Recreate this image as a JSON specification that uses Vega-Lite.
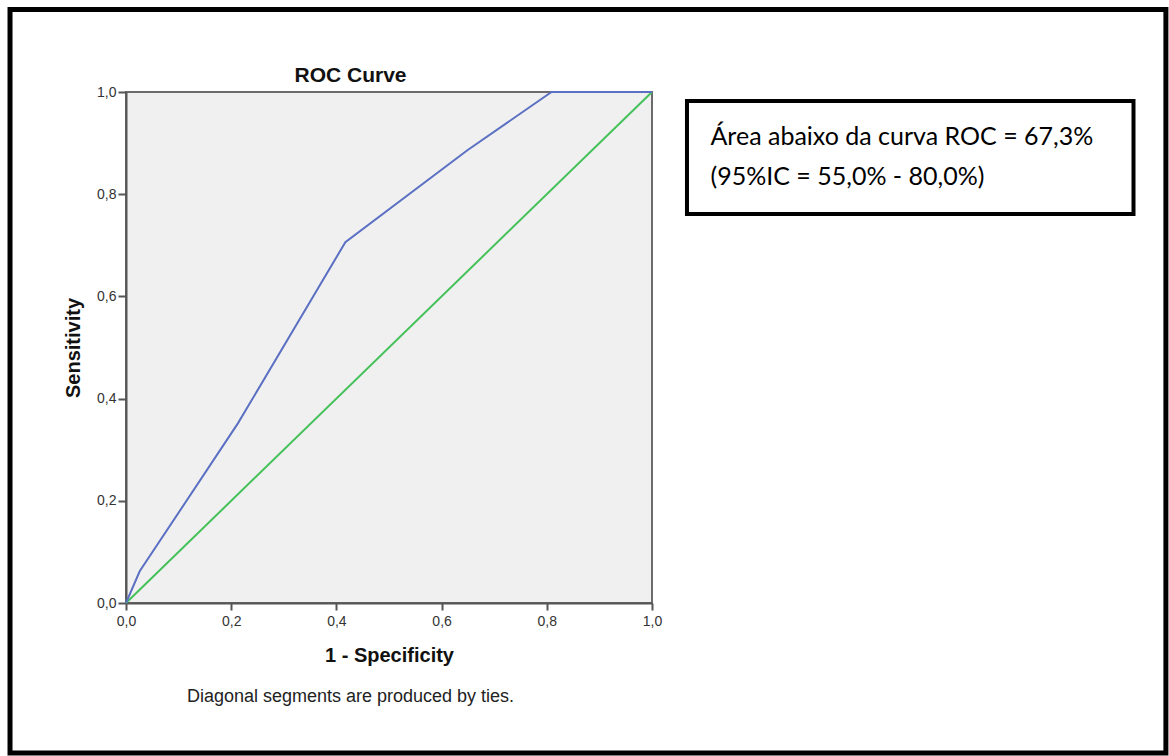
{
  "$schema": "https://vega.github.io/schema/vega-lite/v6.json",
  "width": 526,
  "height": 511,
  "autosize": {"type": "none"},
  "padding": {"left": 126, "top": 92, "right": 517, "bottom": 153},
  "background": "white",
  "config": {
    "font": "Liberation Sans",
    "view": {"fill": "#f0f0f0", "stroke": "#6b6b6b", "strokeWidth": 2}
  },
  "datasets": {
    "roc": [
      {"fpr": 0.0, "tpr": 0.0},
      {"fpr": 0.026, "tpr": 0.062},
      {"fpr": 0.213, "tpr": 0.352},
      {"fpr": 0.417, "tpr": 0.706},
      {"fpr": 0.649, "tpr": 0.886},
      {"fpr": 0.809, "tpr": 1.0},
      {"fpr": 1.0, "tpr": 1.0}
    ],
    "diag": [
      {"fpr": 0.0, "tpr": 0.0},
      {"fpr": 1.0, "tpr": 1.0}
    ],
    "note": [{"title": "ROC Curve", "line": "Área abaixo da curva ROC = 67,3%", "line2": "(95%IC = 55,0% - 80,0%)", "foot": "Diagonal segments are produced by ties."}]
  },
  "layer": [
    {
      "data": {"name": "diag"},
      "mark": {"type": "line", "color": "#45c15a", "strokeWidth": 2},
      "encoding": {
        "x": {
          "field": "fpr", "type": "quantitative",
          "scale": {"domain": [0, 1], "nice": false, "zero": false},
          "axis": {
            "values": [0, 0.2, 0.4, 0.6, 0.8, 1.0],
            "labelExpr": "replace(format(datum.value, '.1f'), '.', ',')",
            "labelFlush": false,
            "title": "1 - Specificity",
            "titleFontSize": 20, "titleFontWeight": "bold", "titleColor": "#111",
            "titlePadding": 17,
            "labelFontSize": 14, "labelColor": "#333", "labelPadding": 4,
            "tickSize": 7, "tickWidth": 2, "tickColor": "#555",
            "domainColor": "#555", "domainWidth": 2, "grid": false
          }
        },
        "y": {
          "field": "tpr", "type": "quantitative",
          "scale": {"domain": [0, 1], "nice": false, "zero": false},
          "axis": {
            "values": [0, 0.2, 0.4, 0.6, 0.8, 1.0],
            "labelExpr": "replace(format(datum.value, '.1f'), '.', ',')",
            "labelFlush": false,
            "title": "Sensitivity",
            "titleFontSize": 20, "titleFontWeight": "bold", "titleColor": "#111",
            "titlePadding": 13,
            "labelFontSize": 14, "labelColor": "#333", "labelPadding": 2,
            "tickSize": 8, "tickWidth": 2, "tickColor": "#555",
            "domainColor": "#555", "domainWidth": 2, "grid": false
          }
        }
      }
    },
    {
      "data": {"name": "roc"},
      "mark": {"type": "line", "color": "#5b70c2", "strokeWidth": 2},
      "encoding": {
        "x": {"field": "fpr", "type": "quantitative"},
        "y": {"field": "tpr", "type": "quantitative"}
      }
    },
    {
      "data": {"name": "note"},
      "mark": {"type": "rect", "fill": null, "fillOpacity": 0, "stroke": "black", "strokeWidth": 5},
      "encoding": {
        "x": {"datum": -0.2205},
        "x2": {"datum": 1.977},
        "y": {"datum": 1.1614},
        "y2": {"datum": -0.2935}
      }
    },
    {
      "data": {"name": "note"},
      "mark": {"type": "text", "align": "center", "baseline": "alphabetic", "font": "Liberation Sans", "fontSize": 21, "fontWeight": "bold", "color": "#111"},
      "encoding": {
        "x": {"datum": 0.4268},
        "y": {"datum": 1.0202},
        "text": {"field": "title"}
      }
    },
    {
      "data": {"name": "note"},
      "mark": {"type": "rect", "fill": "white", "stroke": "black", "strokeWidth": 4},
      "encoding": {
        "x": {"datum": 1.0665},
        "x2": {"datum": 1.9154},
        "y": {"datum": 0.9824},
        "y2": {"datum": 0.7613}
      }
    },
    {
      "data": {"name": "note"},
      "mark": {"type": "text", "align": "left", "baseline": "alphabetic", "font": "Lato", "fontSize": 25, "color": "#000"},
      "encoding": {
        "x": {"datum": 1.1112},
        "y": {"datum": 0.8963},
        "text": {"field": "line"}
      }
    },
    {
      "data": {"name": "note"},
      "mark": {"type": "text", "align": "left", "baseline": "alphabetic", "font": "Lato", "fontSize": 25, "color": "#000"},
      "encoding": {
        "x": {"datum": 1.1112},
        "y": {"datum": 0.818},
        "text": {"field": "line2"}
      }
    },
    {
      "data": {"name": "note"},
      "mark": {"type": "text", "align": "center", "baseline": "alphabetic", "font": "Liberation Sans", "fontSize": 18, "color": "#222"},
      "encoding": {
        "x": {"datum": 0.4268},
        "y": {"datum": -0.1937},
        "text": {"field": "foot"}
      }
    }
  ]
}
